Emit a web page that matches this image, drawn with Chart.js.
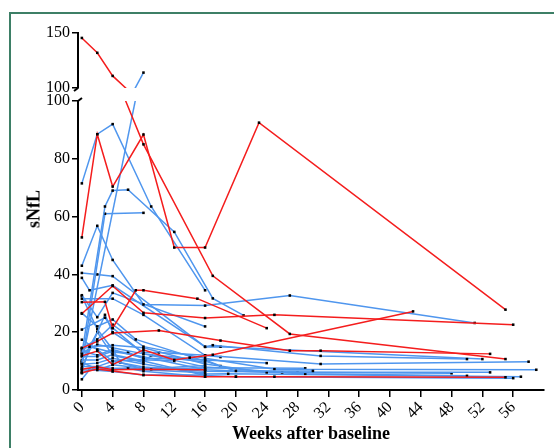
<!DOCTYPE html>
<html><head><meta charset="utf-8">
<script src="https://cdn.jsdelivr.net/npm/chart.js@4.4.0/dist/chart.umd.min.js"></script>
<style>
html,body{margin:0;padding:0;background:#fff;}
#wrap{position:relative;width:554px;height:448px;overflow:hidden;background:#fff;}
#frame{position:absolute;left:9px;top:12px;width:620px;height:520px;border:2px solid #3d7f66;box-sizing:border-box;}
#cb,#ct{position:absolute;left:0;top:0;}
#ytitle{position:absolute;left:34px;top:209px;transform:translate(-50%,-50%) rotate(-90deg);font:bold 18px "Liberation Serif","Times New Roman",serif;color:#000;white-space:nowrap;}
</style></head>
<body>
<div id="wrap">
<div id="frame"></div>
<canvas id="cb" width="554" height="448"></canvas>
<canvas id="ct" width="554" height="100"></canvas>
<div id="ytitle">sNfL</div>
</div>
<script>
// ---- data ----
const xTicks = [0,4,8,12,16,20,24,28,32,36,40,44,48,52,56];
const yTicksLower = [0,20,40,60,80,100];
const yTicksUpper = [100,150];
const xTitle = 'Weeks after baseline';

// each subject: [week, sNfL] pairs
const redSubjects = [
  [[0,145.5],[2,132],[4,111],[8,85],[17,39.5],[27,19.4],[55,10.7]],
  [[0,52.8],[2,88.5],[4,70.4],[8,88.4],[12,49.3],[16,49.3],[23,92.5],[55,27.8]],
  [[0,30.4],[3,30.5],[4,21.4],[7,34.5],[8,34.5],[15,31.6],[24,21.4]],
  [[0,26.4],[4,36],[8,26.7],[16,24.9],[25,26],[56,22.6]],
  [[0,14.5],[2,16.8],[4,19.7],[10,20.6],[18,17.1],[27,13.6],[31,13.6],[53,12.5]],
  [[0,11.8],[2,13.5],[4,8.8],[8,13.9],[12,10.4],[14,11.2],[17,12.2],[43,27.2]],
  [[0,6],[2,7.3],[4,6.6],[8,5.2],[16,4.6],[20,4.6],[25,4.6],[55,4.4]],
  [[0,7.2],[2,8],[4,7],[8,7.2],[16,7]]
];
const blueSubjects = [
  [[0,71.5],[2,88.5],[4,92],[9,63.5],[16,34.5]],
  [[0,12.5],[3,63.5],[4,69],[6,69.3],[12,54.7],[17,31.7],[21,25.8]],
  [[0,9],[3,61],[8,61.3]],
  [[0,43],[2,56.8],[4,45],[8,29.6],[16,29.2],[27,32.7],[51,23.2]],
  [[0,9.5],[8,114]],
  [[0,38.8],[1,34.5],[4,36.2],[16,15],[17,15.5],[31,11.8],[50,10.7]],
  [[0,40.5],[2,40],[4,39.4],[16,14.9],[18,15],[52,10.7]],
  [[0,32.8],[2,25.2],[4,33.6],[16,22]],
  [[0,31.6],[4,31.6],[8,26],[16,12],[31,9],[58,9.8]],
  [[0,26.6],[2,22],[4,24.4],[7,17.5],[16,10],[20,6.6],[30,6.6]],
  [[0,14.6],[2,17.5],[4,22.6],[8,15],[16,11],[25,7.2],[59,7]],
  [[0,14.1],[1,15],[4,15.5],[8,14.6],[16,9],[24,6.1],[53,6.1]],
  [[0,12.8],[2,15.7],[4,14.6],[8,12.5],[16,8],[26,6.1],[48,5.8]],
  [[0,11.6],[2,11.6],[4,13.4],[8,11.5],[16,7],[29,5.6],[50,4.9]],
  [[0,10.4],[2,10.4],[4,12.3],[8,10],[16,5],[20,4.6],[56,4.1]],
  [[0,8.9],[2,9.3],[4,11],[8,9],[16,5.5],[19,5.6],[57,4.6]],
  [[0,8.1],[2,8.1],[4,9.9],[8,8],[16,6.5],[28,6.1]],
  [[0,6.9],[2,6.9],[4,8.7],[8,7.5],[9,7.2],[16,7.7],[29,7.5]],
  [[0,5.8],[2,8],[4,7.5],[6,7.5],[8,6.5],[16,4.6]],
  [[0,3.7],[1,7],[4,6.4],[8,5.2],[16,5.2]],
  [[0,17.4],[2,14],[4,10],[8,10.5],[12,10]],
  [[0,20.9],[3,25],[4,21.5],[8,12.5],[16,10.4],[18,8.3]],
  [[0,6.2],[1,15],[4,13],[6,13],[8,11]],
  [[0,7.5],[3,26],[4,20],[8,13],[10,13],[16,12],[18,11.4]],
  [[0,13.5],[2,12],[4,14],[5,9.5],[8,7.3],[16,8.5]],
  [[0,10],[2,20],[4,12],[8,9.5],[9,12],[16,9.6]],
  [[0,9.6],[2,7.2],[4,6.8],[6,7.7],[8,7],[16,6]],
  [[0,32.5],[2,21],[4,14],[8,11],[16,10.4],[24,9.3]]
];

// ---- styles ----
const RED = '#f41d1d', BLUE = '#4f96ee';
const FAM = '"Liberation Serif","Times New Roman",serif';
const tickFont = {family:FAM, size:16};

function mk(s, c){
  return {data:s.map(p=>({x:p[0],y:p[1]})), borderColor:c, borderWidth:1.5,
    pointRadius:1.8, pointStyle:'rect', pointBackgroundColor:'#000', pointBorderWidth:0,
    pointHoverRadius:0, tension:0, fill:false, showLine:true};
}
function datasets(){
  return redSubjects.map(s=>mk(s,RED)).concat(blueSubjects.map(s=>mk(s,BLUE)));
}

const breakMarks = {
  id:'breakMarks',
  afterDraw(chart, args, opts){
    const ctx = chart.ctx, a = chart.chartArea;
    ctx.save(); ctx.strokeStyle='#000'; ctx.lineWidth=2;
    ctx.beginPath();
    if(opts.where==='bottom'){ ctx.moveTo(a.left, a.bottom); ctx.lineTo(a.left-4, a.bottom+3); }
    else { ctx.moveTo(a.left, a.top); ctx.lineTo(a.left+4, a.top-3); }
    ctx.stroke(); ctx.restore();
  }
};

function xScale(show){
  const s = {type:'linear', min:-0.5, max:60, display:show,
    afterBuildTicks:s=>{s.ticks = xTicks.map(v=>({value:v}));},
    ticks:{font:tickFont, color:'#000', minRotation:45, maxRotation:45, autoSkip:false, padding:1},
    grid:{drawOnChartArea:false, drawTicks:true, tickLength:7, color:'#000', lineWidth:1.5},
    border:{color:'#000', width:2},
    title:{display:show, text:xTitle, color:'#000', font:{family:FAM, size:18, weight:'bold'}, padding:{top:0,bottom:3}}
  };
  if(show) s.afterFit = sc=>{sc.height = 58;};
  return s;
}
function yScale(min,max,ticks){
  return {type:'linear', min:min, max:max,
    afterBuildTicks:s=>{s.ticks = ticks.map(v=>({value:v}));},
    ticks:{font:tickFont, color:'#000', padding:2},
    grid:{drawOnChartArea:false, drawTicks:true, tickLength:6, color:'#000', lineWidth:1.5},
    border:{color:'#000', width:2},
    afterFit:s=>{s.width = 78;}
  };
}
const common = {responsive:false, animation:false, devicePixelRatio:1,
  plugins:{legend:{display:false}, tooltip:{enabled:false}}, events:[]};

new Chart(document.getElementById('cb'), {
  type:'line', data:{datasets:datasets()},
  options:Object.assign({}, common, {
    layout:{padding:{top:101, right:10, left:0, bottom:0}},
    scales:{x:xScale(true), y:yScale(0,100,yTicksLower)},
    plugins:Object.assign({}, common.plugins, {breakMarks:{where:'top'}})
  }),
  plugins:[breakMarks]
});
new Chart(document.getElementById('ct'), {
  type:'line', data:{datasets:datasets()},
  options:Object.assign({}, common, {
    layout:{padding:{top:33, right:10, left:0, bottom:12}},
    scales:{x:xScale(false), y:yScale(100,150,yTicksUpper)},
    plugins:Object.assign({}, common.plugins, {breakMarks:{where:'bottom'}})
  }),
  plugins:[breakMarks]
});
</script>
</body></html>
